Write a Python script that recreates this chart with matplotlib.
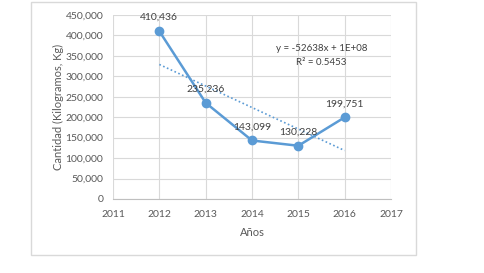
import numpy as np
import matplotlib
matplotlib.use('Agg')
import matplotlib.pyplot as plt
from matplotlib.patches import Rectangle

years = [2012, 2013, 2014, 2015, 2016]
cantidad = [410436, 235236, 143099, 130228, 199751]
yticks = [0, 50000, 100000, 150000, 200000, 250000, 300000, 350000, 400000, 450000]
xticks = [2011, 2012, 2013, 2014, 2015, 2016, 2017]

blue = '#5B9BD5'
grey = '#595959'
plt.rcParams['font.family'] = ['Lato', 'DejaVu Sans']

fig = plt.figure(figsize=(4.84, 2.73), dpi=100)
W, H = 484, 273
ax = fig.add_axes([113 / W, 1 - 199 / H, (391 - 113) / W, (199 - 15) / H])

# chart border
fig.patches.append(Rectangle((31 / W, 1 - 255 / H), (416 - 31) / W, (255 - 2) / H,
                             transform=fig.transFigure, fill=False,
                             edgecolor='#D9D9D9', lw=1))

ax.plot(years, cantidad, color=blue, lw=1.8, marker='o', ms=6, zorder=3)

# linear trendline
m, b = np.polyfit(years, cantidad, 1)
tx = np.array([years[0], years[-1]])
ax.plot(tx, m * tx + b, color=blue, lw=1.2, ls=(0, (1, 1.5)), zorder=2)

for x, y in zip(years, cantidad):
    ax.annotate(f'{y:,}', (x, y), xytext=(0, 6.5), textcoords='offset points',
                ha='center', va='bottom', fontsize=7.5, color='#404040')

ax.text(2015.5, 367000, 'y = -52638x + 1E+08', ha='center', va='center',
        fontsize=7, color='#404040')
ax.text(2015.5, 333000, 'R² = 0.5453', ha='center', va='center',
        fontsize=7, color='#404040')

ax.set_xlim(2011, 2017)
ax.set_ylim(0, 450000)
ax.set_xticks(xticks)
ax.set_yticks(yticks)
ax.set_yticklabels([f'{v:,}' for v in yticks])
ax.grid(True, color='#D9D9D9', lw=0.8)
ax.set_axisbelow(True)
for s in ['top', 'right', 'left']:
    ax.spines[s].set_visible(False)
ax.spines['bottom'].set_color('#BFBFBF')
ax.tick_params(length=0, labelsize=7.5, colors=grey, pad=8)
ax.tick_params(axis='y', pad=7)
ax.set_xlabel('Años', fontsize=8, color=grey, labelpad=6)
ax.set_ylabel('Cantidad (Kilogramos, Kg)', fontsize=8, color=grey, labelpad=1)

fig.savefig('out.png', dpi=100)
